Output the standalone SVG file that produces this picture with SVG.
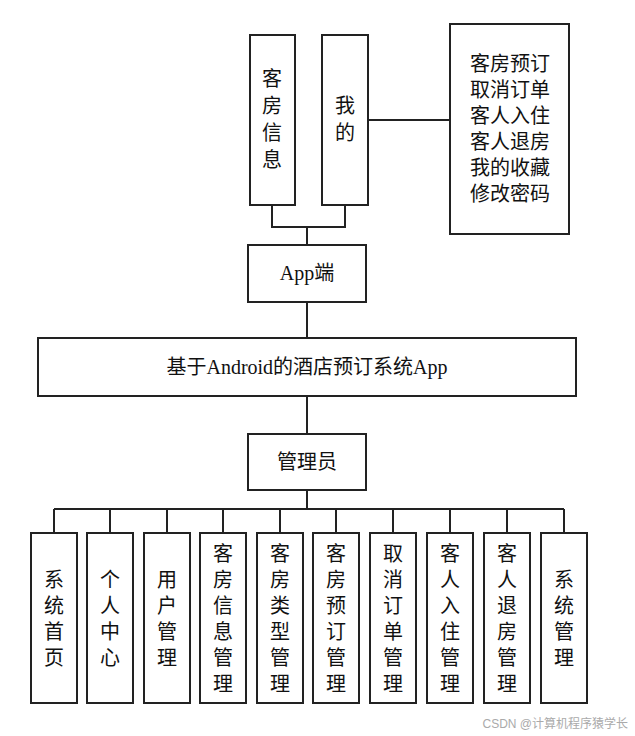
<svg xmlns="http://www.w3.org/2000/svg" width="635" height="736" viewBox="0 0 635 736">
<style>
rect{fill:#fff;stroke:#222;stroke-width:2}
text{font-family:"Liberation Serif","Noto Sans CJK SC",serif;font-size:20px;fill:#111;text-anchor:middle}
.c line{stroke:#222;stroke-width:2}
</style>
<rect x="0" y="0" width="635" height="736" style="stroke:none"/>
<g class="c">
<line x1="368" y1="120" x2="450" y2="120"/>
<line x1="272" y1="205" x2="272" y2="227"/><line x1="345" y1="205" x2="345" y2="227"/>
<line x1="271" y1="227" x2="346" y2="227"/><line x1="307" y1="227" x2="307" y2="245"/>
<line x1="307" y1="302" x2="307" y2="338"/><line x1="307" y1="396" x2="307" y2="434"/>
<line x1="307" y1="490" x2="307" y2="509"/>
<line x1="54" y1="509" x2="564" y2="509"/>
<line x1="54" y1="509" x2="54" y2="533"/><line x1="110" y1="509" x2="110" y2="533"/><line x1="167" y1="509" x2="167" y2="533"/><line x1="223" y1="509" x2="223" y2="533"/><line x1="280" y1="509" x2="280" y2="533"/><line x1="336" y1="509" x2="336" y2="533"/><line x1="393" y1="509" x2="393" y2="533"/><line x1="450" y1="509" x2="450" y2="533"/><line x1="507" y1="509" x2="507" y2="533"/><line x1="564" y1="509" x2="564" y2="533"/>
</g>
<g id="n-kfxx"><rect x="250" y="35" width="45" height="170"/><text x="272" y="86">客</text><text x="272" y="113">房</text><text x="272" y="140">信</text><text x="272" y="167">息</text></g>
<g id="n-wode"><rect x="322" y="35" width="46" height="170"/><text x="345" y="113">我</text><text x="345" y="140">的</text></g>
<g id="n-list"><rect x="450" y="24" width="119" height="210"/>
<text x="510" y="71">客房预订</text><text x="510" y="97">取消订单</text><text x="510" y="123">客人入住</text><text x="510" y="149">客人退房</text><text x="510" y="175">我的收藏</text><text x="510" y="201">修改密码</text></g>
<g id="n-app"><rect x="248" y="245" width="118" height="57"/><text x="307" y="280">App端</text></g>
<g id="n-main"><rect x="38" y="338" width="538" height="58"/><text x="307" y="374">基于Android的酒店预订系统App</text></g>
<g id="n-admin"><rect x="248" y="434" width="118" height="56"/><text x="307" y="469">管理员</text></g>
<g id="b1"><rect x="31" y="533" width="46" height="170"/><text x="54" y="587">系</text><text x="54" y="613">统</text><text x="54" y="639">首</text><text x="54" y="665">页</text></g>
<g id="b2"><rect x="87" y="533" width="46" height="170"/><text x="110" y="587">个</text><text x="110" y="613">人</text><text x="110" y="639">中</text><text x="110" y="665">心</text></g>
<g id="b3"><rect x="144" y="533" width="46" height="170"/><text x="167" y="587">用</text><text x="167" y="613">户</text><text x="167" y="639">管</text><text x="167" y="665">理</text></g>
<g id="b4"><rect x="200" y="533" width="46" height="170"/><text x="223" y="561">客</text><text x="223" y="587">房</text><text x="223" y="613">信</text><text x="223" y="639">息</text><text x="223" y="665">管</text><text x="223" y="691">理</text></g>
<g id="b5"><rect x="257" y="533" width="46" height="170"/><text x="280" y="561">客</text><text x="280" y="587">房</text><text x="280" y="613">类</text><text x="280" y="639">型</text><text x="280" y="665">管</text><text x="280" y="691">理</text></g>
<g id="b6"><rect x="313" y="533" width="46" height="170"/><text x="336" y="561">客</text><text x="336" y="587">房</text><text x="336" y="613">预</text><text x="336" y="639">订</text><text x="336" y="665">管</text><text x="336" y="691">理</text></g>
<g id="b7"><rect x="370" y="533" width="46" height="170"/><text x="393" y="561">取</text><text x="393" y="587">消</text><text x="393" y="613">订</text><text x="393" y="639">单</text><text x="393" y="665">管</text><text x="393" y="691">理</text></g>
<g id="b8"><rect x="427" y="533" width="46" height="170"/><text x="450" y="561">客</text><text x="450" y="587">人</text><text x="450" y="613">入</text><text x="450" y="639">住</text><text x="450" y="665">管</text><text x="450" y="691">理</text></g>
<g id="b9"><rect x="484" y="533" width="46" height="170"/><text x="507" y="561">客</text><text x="507" y="587">人</text><text x="507" y="613">退</text><text x="507" y="639">房</text><text x="507" y="665">管</text><text x="507" y="691">理</text></g>
<g id="b10"><rect x="541" y="533" width="46" height="170"/><text x="564" y="587">系</text><text x="564" y="613">统</text><text x="564" y="639">管</text><text x="564" y="665">理</text></g>
<text x="628" y="728" style="font-size:12px;fill:#aaa;text-anchor:end;font-family:'Liberation Sans','Noto Sans CJK SC',sans-serif">CSDN @计算机程序猿学长</text>
</svg>
